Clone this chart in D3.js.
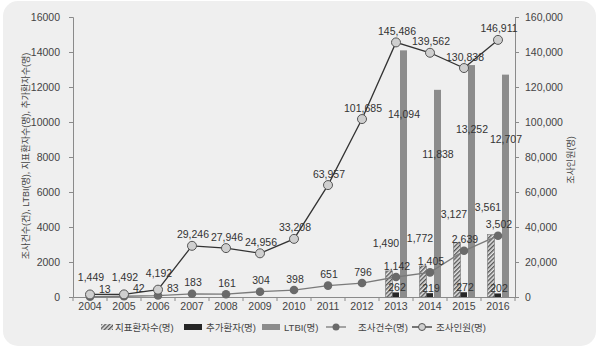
<!DOCTYPE html>
<html>
<head>
<meta charset="utf-8">
<script src="https://cdn.jsdelivr.net/npm/d3@7"></script>
<style>
  html, body { margin: 0; padding: 0; background: #ffffff; }
  svg { display: block; font-family: "Liberation Sans Narrow", "Liberation Sans", Arial, "Noto Sans CJK KR", sans-serif; }
  .kr { font-family: "Liberation Sans Narrow", "Liberation Sans", "Noto Sans CJK KR", sans-serif; }
</style>
</head>
<body>
<svg id="chart" width="600" height="350"></svg>
<script>
// Years on the x axis
const years = ["2004","2005","2006","2007","2008","2009","2010","2011","2012","2013","2014","2015","2016"];
// 지표환자수(명) – index cases (only reported from 2013)
const indexCases = [null,null,null,null,null,null,null,null,null,1490,1772,3127,3561];
// 추가환자(명) – additional patients found
const addCases = [null,null,null,null,null,null,null,null,null,262,219,272,202];
// LTBI(명)
const ltbi = [null,null,null,null,null,null,null,null,null,14094,11838,13252,12707];
// 조사건수(건) – number of investigations (left axis)
const investigations = [13,42,83,183,161,304,398,651,796,1142,1405,2639,3502];
// 조사인원(명) – people examined (right axis)
const examined = [1449,1492,4192,29246,27946,24956,33208,63957,101685,145486,139562,130838,146911];
// Axis ticks
const leftTicks = [0,2000,4000,6000,8000,10000,12000,14000,16000];
const rightTicks = [0,20000,40000,60000,80000,100000,120000,140000,160000];
// Titles
const leftTitle = "조사건수(건), LTBI(명), 지표환자수(명), 추가환자수(명)";
const rightTitle = "조사인원(명)";
const legendLabels = ["지표환자수(명)","추가환자(명)","LTBI(명)","조사건수(명)","조사인원(명)"];

const svg = d3.select("#chart");

// Panel background with rounded corners
svg.append("rect").attr("x", 3).attr("y", 1).attr("width", 593).attr("height", 345)
  .attr("rx", 15).attr("ry", 15).attr("fill", "#efefef");

const defs = svg.append("defs");
const pat = defs.append("pattern").attr("id", "hatch").attr("patternUnits", "userSpaceOnUse")
  .attr("width", 3).attr("height", 3).attr("patternTransform", "rotate(45)");
pat.append("rect").attr("width", 3).attr("height", 3).attr("fill", "#e6e6e6");
pat.append("rect").attr("width", 1.4).attr("height", 3).attr("fill", "#555");

const plotL = 73, plotR = 515, plotT = 17, plotB = 297;
const x = d3.scaleBand().domain(years).range([plotL, plotR]).padding(0);
const yL = d3.scaleLinear().domain([0, 16000]).range([plotB, plotT]);
const yR = d3.scaleLinear().domain([0, 160000]).range([plotB, plotT]);
const cx = d => x(d) + x.bandwidth() / 2;

const axisColor = "#8a8a8a";
const tickText = "#444";
const fs = 10.5;

// Left axis
const gL = svg.append("g").attr("transform", `translate(${plotL},0)`)
  .call(d3.axisLeft(yL).tickValues(leftTicks).tickFormat(d3.format("d")).tickSizeOuter(0).tickSize(4).tickPadding(5));
// Right axis
const gR = svg.append("g").attr("transform", `translate(${plotR},0)`)
  .call(d3.axisRight(yR).tickValues(rightTicks).tickFormat(d3.format(",")).tickSizeOuter(0).tickSize(4).tickPadding(6));
// Bottom axis: labels at category centres, ticks at category edges
const gB = svg.append("g").attr("transform", `translate(0,${plotB})`)
  .call(d3.axisBottom(x).tickSize(0).tickPadding(6));
gB.selectAll(".edge").data(d3.range(years.length + 1)).join("line")
  .attr("class", "edge")
  .attr("x1", i => plotL + i * x.step()).attr("x2", i => plotL + i * x.step())
  .attr("y1", 0).attr("y2", 4).attr("stroke", axisColor);

[gL, gR, gB].forEach(g => {
  g.select(".domain").attr("stroke", axisColor);
  g.selectAll(".tick line").attr("stroke", axisColor);
  g.selectAll(".tick text").attr("fill", tickText).attr("font-size", fs).attr("font-family", null);
});
gL.selectAll(".tick text").attr("dx", -4);

// Axis titles
svg.append("text").attr("transform", `translate(29,156) rotate(-90)`)
  .attr("text-anchor", "middle").attr("font-size", 9).attr("fill", "#444").text(leftTitle);
svg.append("text").attr("transform", `translate(574,160) rotate(-90)`)
  .attr("text-anchor", "middle").attr("font-size", 9).attr("fill", "#444").text(rightTitle);

// Bars
const bw = 7;
const barRows = years.map((y, i) => ({ year: y, idx: indexCases[i], add: addCases[i], ltbi: ltbi[i] }))
  .filter(d => d.idx != null);

const bars = svg.append("g");
bars.selectAll(".b-idx").data(barRows).join("rect")
  .attr("x", d => cx(d.year) - 1.5 * bw).attr("width", bw)
  .attr("y", d => yL(d.idx)).attr("height", d => plotB - yL(d.idx))
  .attr("fill", "url(#hatch)").attr("stroke", "#777").attr("stroke-width", 0.6);
bars.selectAll(".b-add").data(barRows).join("rect")
  .attr("x", d => cx(d.year) - 0.5 * bw).attr("width", bw - 0.5)
  .attr("y", d => yL(d.add)).attr("height", d => plotB - yL(d.add))
  .attr("fill", "#262626");
bars.selectAll(".b-ltbi").data(barRows).join("rect")
  .attr("x", d => cx(d.year) + 0.5 * bw + 0.5).attr("width", bw)
  .attr("y", d => yL(d.ltbi)).attr("height", d => plotB - yL(d.ltbi))
  .attr("fill", "#8c8c8c");

const labelFs = 10.5, labelColor = "#333";
const fmt = d3.format(",");

// Bar labels
bars.selectAll(".l-idx").data(barRows).join("text")
  .attr("x", d => cx(d.year) - bw - 3).attr("y", d => yL(d.idx) - 24)
  .attr("text-anchor", "middle").attr("font-size", labelFs).attr("fill", labelColor)
  .text(d => fmt(d.idx));
bars.selectAll(".l-add").data(barRows).join("text")
  .attr("x", d => cx(d.year) + 1).attr("y", d => yL(d.add) - 1.5)
  .attr("text-anchor", "middle").attr("font-size", labelFs).attr("fill", labelColor)
  .text(d => fmt(d.add));
bars.selectAll(".l-ltbi").data(barRows).join("text")
  .attr("x", d => cx(d.year) + bw + 1).attr("y", d => yL(d.ltbi) + 68)
  .attr("text-anchor", "middle").attr("font-size", labelFs).attr("fill", labelColor)
  .text(d => fmt(d.ltbi));

// Lines
const invPts = years.map((y, i) => ({ year: y, v: investigations[i], px: cx(y), py: yL(investigations[i]) }));
const exPts = years.map((y, i) => ({ year: y, v: examined[i], px: cx(y), py: yR(examined[i]) }));
invPts.forEach((d, i) => { d.close = Math.abs(d.py - exPts[i].py) < 12; exPts[i].close = d.close; });

const line = d3.line().x(d => d.px).y(d => d.py);
svg.append("path").datum(invPts).attr("d", line).attr("fill", "none").attr("stroke", "#7a7a7a").attr("stroke-width", 1.3);
svg.append("path").datum(exPts).attr("d", line).attr("fill", "none").attr("stroke", "#333").attr("stroke-width", 1.3);

svg.append("g").selectAll("circle").data(invPts).join("circle")
  .attr("cx", d => d.px).attr("cy", d => d.py).attr("r", 4.3).attr("fill", "#6a6a6a");
svg.append("g").selectAll("circle").data(exPts).join("circle")
  .attr("cx", d => d.px).attr("cy", d => d.py).attr("r", 4.5)
  .attr("fill", "#cfcfcf").attr("stroke", "#555").attr("stroke-width", 1);

// Line labels
svg.append("g").selectAll("text").data(invPts).join("text")
  .attr("x", d => d.close ? d.px + 9 : d.px + 1)
  .attr("y", d => d.close ? d.py - 4 : d.py - 7.5)
  .attr("text-anchor", d => d.close ? "start" : "middle")
  .attr("font-size", labelFs).attr("fill", labelColor).text(d => fmt(d.v));
svg.append("g").selectAll("text").data(exPts).join("text")
  .attr("x", d => d.px + 1)
  .attr("y", d => d.close ? d.py - 13 : d.py - 7.5)
  .attr("text-anchor", "middle")
  .attr("font-size", labelFs).attr("fill", labelColor).text(d => fmt(d.v));

// Legend
const lg = svg.append("g").attr("transform", "translate(0,327)");
const ly = 0;
lg.append("rect").attr("x", 101).attr("y", ly - 3).attr("width", 12).attr("height", 6).attr("fill", "url(#hatch)");
lg.append("text").attr("x", 115).attr("y", ly + 3.5).text(legendLabels[0]);
lg.append("rect").attr("x", 184).attr("y", ly - 3).attr("width", 18).attr("height", 6).attr("fill", "#262626");
lg.append("text").attr("x", 206).attr("y", ly + 3.5).text(legendLabels[1]);
lg.append("rect").attr("x", 262).attr("y", ly - 3).attr("width", 18).attr("height", 6).attr("fill", "#8c8c8c");
lg.append("text").attr("x", 284).attr("y", ly + 3.5).text(legendLabels[2]);
lg.append("line").attr("x1", 326).attr("x2", 346).attr("y1", ly).attr("y2", ly).attr("stroke", "#7a7a7a").attr("stroke-width", 1.3);
lg.append("circle").attr("cx", 336).attr("cy", ly).attr("r", 3.5).attr("fill", "#6a6a6a");
lg.append("text").attr("x", 358).attr("y", ly + 3.5).text(legendLabels[3]);
lg.append("line").attr("x1", 412).attr("x2", 432).attr("y1", ly).attr("y2", ly).attr("stroke", "#333").attr("stroke-width", 1.3);
lg.append("circle").attr("cx", 422).attr("cy", ly).attr("r", 3.5).attr("fill", "#cfcfcf").attr("stroke", "#555");
lg.append("text").attr("x", 436).attr("y", ly + 3.5).text(legendLabels[4]);
lg.selectAll("text").attr("font-size", 9.5).attr("fill", "#444");
</script>
</body>
</html>
